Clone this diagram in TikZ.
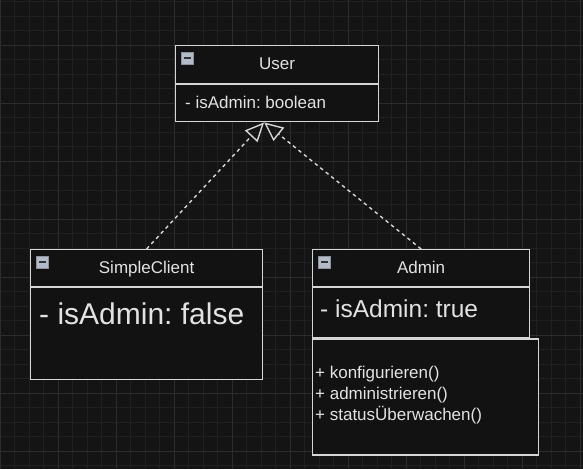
\documentclass[tikz,border=0pt]{standalone}
\usepackage{fontspec}
\setmainfont{Liberation Sans}
\usetikzlibrary{arrows.meta,positioning}
\frenchspacing
\definecolor{canvas}{HTML}{141414}
\definecolor{boxfill}{HTML}{121212}
\definecolor{minorline}{HTML}{202020}
\definecolor{majorline}{HTML}{2C2C2C}
\definecolor{edge}{HTML}{D6D6D6}
\definecolor{ink}{HTML}{E2E2E2}
\definecolor{iconfill}{HTML}{B4BBC8}
\definecolor{iconedge}{HTML}{8C929C}
\tikzset{
head/.style = {draw=edge, fill=boxfill, line width=1.2pt, rectangle, anchor=north west, inner sep=0pt,
  text=ink, font=\fontsize{17}{20}\selectfont, text height=13pt, text depth=3pt},
compart/.style = {draw=edge, fill=boxfill, line width=1.2pt, rectangle, anchor=north west, inner sep=0pt},
member/.style = {anchor=base west, inner sep=0pt, text=ink, font=\fontsize{17}{20}\selectfont},
icon/.style = {draw=iconedge, fill=iconfill, line width=0.8pt, rectangle, minimum size=12pt, inner sep=0pt,
  path picture={\draw[black!80, line width=1.6pt] ([xshift=-3.5pt]path picture bounding box.center) -- ([xshift=3.5pt]path picture bounding box.center);}},
minorgrid/.style = {draw=minorline, line width=0.8pt},
majorgrid/.style = {draw=majorline, line width=0.9pt},
realize/.style = {draw=edge, line width=1.4pt, dash pattern=on 3.5pt off 3.5pt, -{Triangle[open, length=19pt, width=17pt]}}
}
\begin{document}
\begin{tikzpicture}[x=1pt, y=-1pt]
    \useasboundingbox (0,0) rectangle (583,469);
    \fill[canvas] (0,0) rectangle (583,469);
    % the canvas grid
    \foreach \i in {0,...,40} \draw[minorgrid] (\i*14.5,0) -- (\i*14.5,469);
    \foreach \j in {0,...,32} \draw[minorgrid] (0,1.5+\j*14.5) -- (583,1.5+\j*14.5);
    \foreach \i in {0,...,10} \draw[majorgrid] (\i*58,0) -- (\i*58,469);
    \foreach \j in {1,...,8} \draw[majorgrid] (0,\j*58-13) -- (583,\j*58-13);

    % We start by placing the classes
    \node [head, minimum width=203pt, minimum height=38pt] at (175,45) (uhead) {User};
    \node [compart, minimum width=203pt, minimum height=37pt, below=0pt of uhead] (uattr) {};
    \node [head, minimum width=232pt, minimum height=37pt] at (30,249) (chead) {SimpleClient};
    \node [compart, minimum width=232pt, minimum height=92pt, below=0pt of chead] (cattr) {};
    \node [head, minimum width=217pt, minimum height=37pt] at (312,249) (ahead) {Admin};
    \node [compart, minimum width=217pt, minimum height=50pt, below=0pt of ahead] (aattr) {};
    \node [compart, minimum width=226pt, minimum height=116pt] at (aattr.south west) (aops) {};

    % collapse icons
    \node [icon] at ([xshift=12.5pt, yshift=-13pt]uhead.north west) (uicon) {};
    \node [icon] at ([xshift=12.5pt, yshift=-13pt]chead.north west) (cicon) {};
    \node [icon] at ([xshift=12.5pt, yshift=-13pt]ahead.north west) (aicon) {};

    % members
    \node [member] at (185,108) (uisadmin) {- isAdmin: boolean};
    \node [member, font=\fontsize{30}{34}\selectfont] at (39,324) (cisadmin) {- isAdmin: false};
    \node [member, font=\fontsize{24.5}{28}\selectfont] at (320,317) (aisadmin) {- isAdmin: true};
    \node [member] at (315,378) (konf) {+ konfigurieren()};
    \node [member] at (315,399) (admin) {+ administrieren()};
    \node [member] at (315,420) (status) {+ statusÜberwachen()};

    % realizations
    \draw [realize] (chead.north) -- ([xshift=-13pt]uattr.south);
    \draw [realize] (ahead.north) -- ([xshift=-13pt]uattr.south);
\end{tikzpicture}
\end{document}
